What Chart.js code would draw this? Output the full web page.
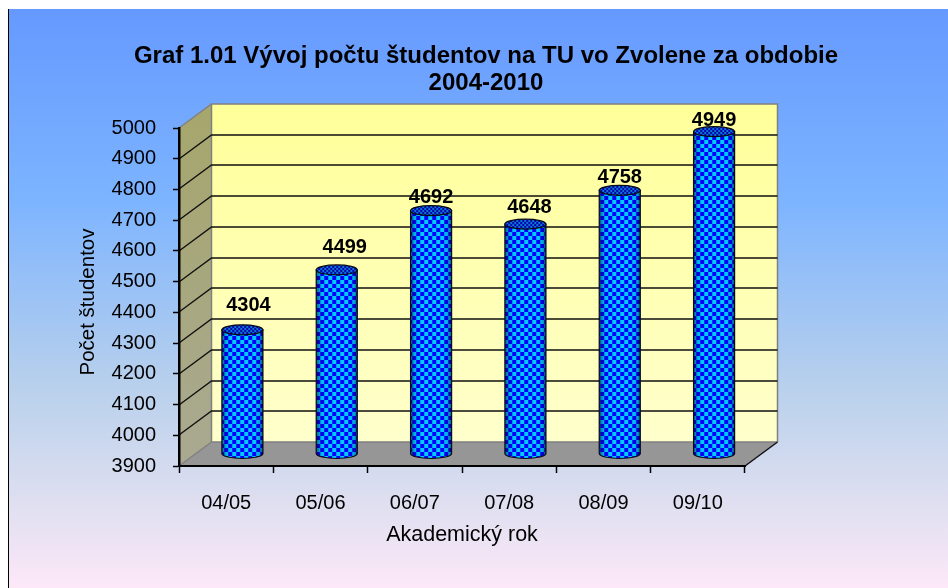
<!DOCTYPE html>
<html>
<head>
<meta charset="utf-8">
<script src="https://cdn.jsdelivr.net/npm/chart.js@4"></script>
<style>
html, body { margin: 0; padding: 0; background: #fff; }
canvas { display: block; }
</style>
</head>
<body>
<canvas id="graf" width="948" height="588"></canvas>
<script>
// data
const categories = ['04/05', '05/06', '06/07', '07/08', '08/09', '09/10']
const students = [4304, 4499, 4692, 4648, 4758, 4949]
const titleLines = ['Graf 1.01 Vývoj počtu študentov na TU vo Zvolene za obdobie', '2004-2010']
const xTitle = 'Akademický rok'
const yTitle = 'Počet študentov'

const FONT = '"Liberation Sans", Arial, sans-serif'
const DEPTH_X = 32.5
const DEPTH_Y = 24

// checker fill of the cylinders
function checker(a, b, size) {
	const c = document.createElement('canvas')
	c.width = c.height = size * 2
	const g = c.getContext('2d')
	g.fillStyle = a
	g.fillRect(0, 0, size * 2, size * 2)
	g.fillStyle = b
	g.fillRect(0, 0, size, size)
	g.fillRect(size, size, size, size)
	return g.createPattern(c, 'repeat')
}
const barFill = checker('#0000ff', '#00ccff', 4)
const capFill = checker('#0000b4', '#0a78c8', 2)

// frame, gradient, walls, floor and the gridlines on them
const walls = {
	id: 'walls',
	beforeDraw(chart) {
		const ctx = chart.ctx
		const { left, right, top, bottom } = chart.chartArea
		ctx.save()

		const bg = ctx.createLinearGradient(0, 9, 0, 588)
		bg.addColorStop(0, '#6699ff')
		bg.addColorStop(0.33, '#7db4ff')
		bg.addColorStop(0.65, '#b8d0ec')
		bg.addColorStop(0.85, '#dedff0')
		bg.addColorStop(1, '#fde8f8')
		ctx.fillStyle = bg
		ctx.fillRect(8, 9, 940, 579)
		ctx.fillStyle = '#000'
		ctx.fillRect(8, 9, 1, 579)

		// back wall
		const backL = left + DEPTH_X, backR = right + DEPTH_X
		const backT = top - DEPTH_Y, backB = bottom - DEPTH_Y
		const wall = ctx.createLinearGradient(0, backT, 0, backB)
		wall.addColorStop(0, '#ffff99')
		wall.addColorStop(1, '#ffffcc')
		ctx.fillStyle = wall
		ctx.fillRect(backL, backT, backR - backL, backB - backT)

		// side wall
		const side = ctx.createLinearGradient(0, backT, 0, bottom)
		side.addColorStop(0, '#a6a66c')
		side.addColorStop(1, '#a9a992')
		ctx.fillStyle = side
		ctx.beginPath()
		ctx.moveTo(left, top)
		ctx.lineTo(backL, backT)
		ctx.lineTo(backL, backB)
		ctx.lineTo(left, bottom)
		ctx.closePath()
		ctx.fill()

		// floor
		ctx.fillStyle = '#969696'
		ctx.beginPath()
		ctx.moveTo(left, bottom)
		ctx.lineTo(right, bottom)
		ctx.lineTo(backR, backB)
		ctx.lineTo(backL, backB)
		ctx.closePath()
		ctx.fill()

		// wall edges
		ctx.strokeStyle = '#808080'
		ctx.lineWidth = 1.5
		ctx.beginPath()
		ctx.moveTo(left, top)
		ctx.lineTo(backL, backT)
		ctx.lineTo(backR, backT)
		ctx.lineTo(backR, backB)
		ctx.moveTo(backL, backT)
		ctx.lineTo(backL, backB)
		ctx.lineTo(backR, backB)
		ctx.moveTo(left, bottom)
		ctx.lineTo(backL, backB)
		ctx.stroke()

		ctx.strokeStyle = '#111'
		ctx.beginPath()
		ctx.moveTo(right, bottom)
		ctx.lineTo(backR, backB)
		ctx.stroke()

		// gridlines, one per y tick, skipping floor and ceiling
		const y = chart.scales.y
		ctx.lineWidth = 1.4
		y.ticks.forEach((t, i) => {
			if (i === 0 || i === y.ticks.length - 1) return
			const py = Math.round(y.getPixelForTick(i))
			ctx.beginPath()
			ctx.moveTo(left, py)
			ctx.lineTo(backL, py - DEPTH_Y)
			ctx.lineTo(backR, py - DEPTH_Y)
			ctx.stroke()
		})
		ctx.restore()
	}
}

// the bars stand halfway into the depth and get round ends
const cylinders = {
	id: 'cylinders',
	beforeDatasetsDraw(chart) {
		const ctx = chart.ctx
		ctx.save()
		ctx.translate(DEPTH_X / 2, -DEPTH_Y / 2)
		// round bottom goes under the bar body
		chart.getDatasetMeta(0).data.forEach((bar) => {
			ctx.fillStyle = barFill
			ctx.beginPath()
			ctx.ellipse(bar.x, bar.base, bar.width / 2, 5, 0, 0, Math.PI * 2)
			ctx.fill()
		})
	},
	afterDatasetsDraw(chart, args, opts) {
		const ctx = chart.ctx
		chart.getDatasetMeta(0).data.forEach((bar) => {
			const l = bar.x - bar.width / 2, r = bar.x + bar.width / 2
			const rx = bar.width / 2

			const body = () => {
				ctx.beginPath()
				ctx.moveTo(l, bar.y)
				ctx.lineTo(l, bar.base)
				ctx.ellipse(bar.x, bar.base, rx, 5, 0, Math.PI, 0, true)
				ctx.lineTo(r, bar.y)
				ctx.closePath()
			}

			// darker toward the edges
			const shade = ctx.createLinearGradient(l, 0, r, 0)
			shade.addColorStop(0, 'rgba(0,0,50,0.5)')
			shade.addColorStop(0.12, 'rgba(0,0,60,0.1)')
			shade.addColorStop(0.25, 'rgba(0,0,60,0)')
			shade.addColorStop(0.8, 'rgba(0,0,60,0)')
			shade.addColorStop(0.93, 'rgba(0,0,60,0.2)')
			shade.addColorStop(1, 'rgba(0,0,40,0.6)')
			ctx.fillStyle = shade
			body()
			ctx.fill()

			ctx.strokeStyle = '#0a0a14'
			ctx.lineWidth = 1.2
			body()
			ctx.stroke()

			// top
			ctx.beginPath()
			ctx.ellipse(bar.x, bar.y, rx, 5, 0, 0, Math.PI * 2)
			ctx.fillStyle = capFill
			ctx.fill()
			ctx.stroke()
		})
		ctx.restore()

		// value labels, placed by hand in the original
		ctx.save()
		ctx.font = 'bold 20px ' + FONT
		ctx.fillStyle = '#000'
		ctx.textAlign = 'center'
		ctx.textBaseline = 'middle'
		chart.getDatasetMeta(0).data.forEach((bar, i) => {
			const n = opts.nudge[i]
			ctx.fillText(students[i], bar.x + DEPTH_X / 2 + n[0], bar.y - DEPTH_Y / 2 + n[1])
		})
		ctx.restore()
	}
}

// y axis title sits a little below the middle of the axis
const yAxisTitle = {
	id: 'yAxisTitle',
	afterDraw(chart, args, opts) {
		const ctx = chart.ctx
		ctx.save()
		ctx.translate(opts.x, opts.y)
		ctx.rotate(-Math.PI / 2)
		ctx.font = '20.5px ' + FONT
		ctx.fillStyle = '#000'
		ctx.textAlign = 'center'
		ctx.textBaseline = 'middle'
		ctx.fillText(yTitle, 0, 0)
		ctx.restore()
	}
}

// title is centred well right of the plot middle
const titleShift = {
	id: 'titleShift',
	afterLayout(chart) {
		chart.titleBlock.left += 113.5
		chart.titleBlock.right += 113.5
	}
}

new Chart(document.getElementById('graf'), {
	type: 'bar',
	data: {
		labels: categories,
		datasets: [{
			data: students,
			base: 3900,
			backgroundColor: barFill,
			borderWidth: 0,
			barPercentage: 0.435,
			categoryPercentage: 1
		}]
	},
	plugins: [walls, cylinders, yAxisTitle, titleShift],
	options: {
		responsive: false,
		animation: false,
		layout: { padding: { left: 0, top: 0, right: 203, bottom: 0 } },
		plugins: {
			legend: { display: false },
			tooltip: { enabled: false },
			title: {
				display: true,
				text: titleLines,
				color: '#000',
				font: { family: FONT, size: 24, weight: 'bold', lineHeight: 1.125 },
				padding: { top: 43, bottom: 31 }
			},
			cylinders: {
				nudge: [[6, -24], [8, -22], [0, -13], [4, -17], [0, -13], [0, -11]]
			},
			yAxisTitle: { x: 88, y: 302 }
		},
		scales: {
			x: {
				offset: true,
				afterFit(scale) { scale.height = 122 },
				border: { color: '#000', width: 2 },
				grid: { drawOnChartArea: false, offset: true, tickLength: 7, tickColor: '#000', tickWidth: 1.5 },
				ticks: { color: '#000', font: { family: FONT, size: 20 }, padding: 18, maxRotation: 0 },
				title: {
					display: true,
					text: xTitle,
					color: '#000',
					font: { family: FONT, size: 21.5 },
					padding: { top: 0, bottom: 40 }
				}
			},
			y: {
				min: 3900,
				max: 5000,
				afterFit(scale) { scale.width = 179 },
				border: { color: '#000', width: 2.5 },
				grid: { drawOnChartArea: false, tickLength: 6, tickColor: '#000', tickWidth: 1.5 },
				ticks: {
					color: '#000',
					stepSize: 100,
					font: { family: FONT, size: 20 },
					padding: 17,
					callback: (v) => String(v)
				}
			}
		}
	}
})
</script>
</body>
</html>
